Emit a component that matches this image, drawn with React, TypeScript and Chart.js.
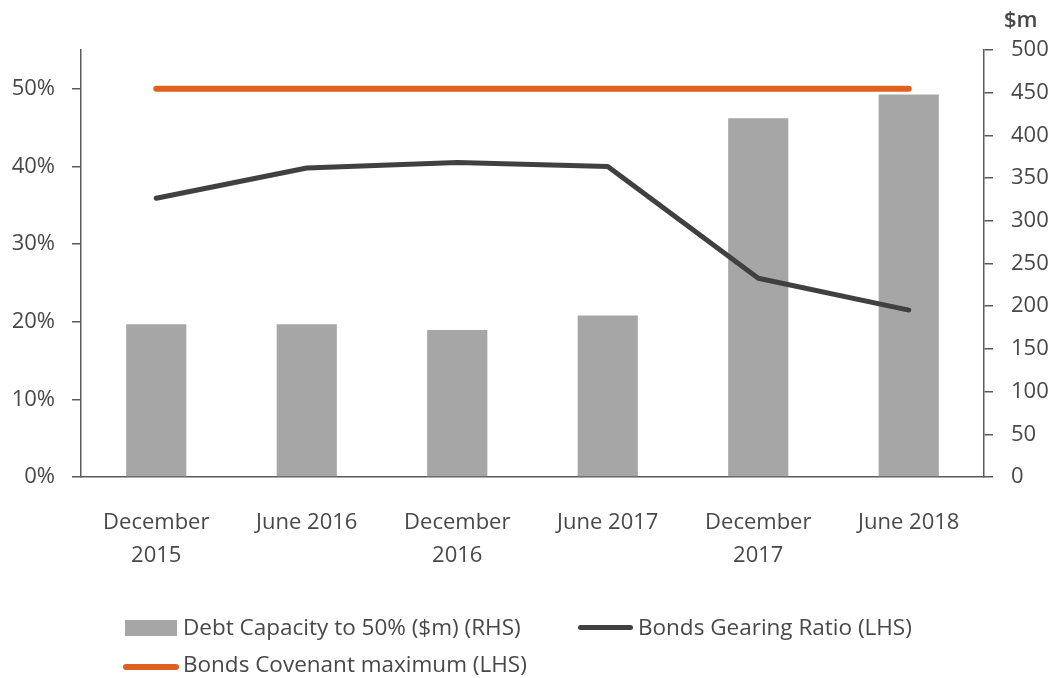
import React, { useEffect, useRef } from "react";
import { Chart, registerables } from "chart.js";

Chart.register(...registerables);

const categories: (string | string[])[] = [
  ["December", "2015"],
  "June 2016",
  ["December", "2016"],
  "June 2017",
  ["December", "2017"],
  "June 2018",
];
const debtCapacity = [179, 179, 172, 189, 420, 448];
const gearingRatio = [0.359, 0.398, 0.405, 0.4, 0.256, 0.215];
const covenantMax = [0.5, 0.5, 0.5, 0.5, 0.5, 0.5];
const leftTicksMax = 0.55;
const rightTicksMax = 500;

const FONT = "'Open Sans', 'DejaVu Sans', sans-serif";
const TEXT = "#484848";
const AXIS = "#5a5a5a";
const GRAY = "#a6a6a6";
const DARK = "#404040";
const ORANGE = "#e0611f";

const unitPlugin = {
  id: "unitLabel",
  afterDraw(chart: any) {
    const ctx = chart.ctx;
    ctx.save();
    ctx.font = `600 22px ${FONT}`;
    ctx.fillStyle = TEXT;
    ctx.textBaseline = "middle";
    ctx.textAlign = "left";
    ctx.fillText("$m", 1004, 21);
    ctx.restore();
  },
};

export default function App() {
  const ref = useRef<HTMLCanvasElement>(null);
  useEffect(() => {
    if (!ref.current) return;
    const chart = new Chart(ref.current, {
      type: "bar",
      data: {
        labels: categories,
        datasets: [
          {
            type: "line",
            label: "Bonds Covenant maximum (LHS)",
            data: covenantMax,
            yAxisID: "y",
            borderColor: ORANGE,
            backgroundColor: ORANGE,
            borderWidth: 6,
            borderCapStyle: "round",
            pointRadius: 0,
            order: 1,
          } as any,
          {
            type: "line",
            label: "Bonds Gearing Ratio (LHS)",
            data: gearingRatio,
            yAxisID: "y",
            borderColor: DARK,
            backgroundColor: DARK,
            borderWidth: 5,
            borderCapStyle: "round",
            borderJoinStyle: "round",
            pointRadius: 0,
            order: 2,
          } as any,
          {
            type: "bar",
            label: "Debt Capacity to 50% ($m) (RHS)",
            data: debtCapacity,
            yAxisID: "y1",
            backgroundColor: GRAY,
            barPercentage: 0.4,
            categoryPercentage: 1,
            order: 3,
          },
        ],
      },
      options: {
        animation: false,
        responsive: false,
        layout: { padding: { top: 50, left: 0, right: 0, bottom: 0 } },
        plugins: {
          legend: { display: false },
          tooltip: { enabled: false },
        },
        scales: {
          x: {
            offset: true,
            grid: { display: false, drawTicks: false },
            border: { display: true, color: AXIS, width: 1.5 },
            ticks: {
              color: TEXT,
              font: { family: FONT, size: 22, lineHeight: 1.5 },
              padding: 29,
              maxRotation: 0,
              autoSkip: false,
            },
            afterFit(scale: any) {
              scale.height = 201;
            },
          },
          y: {
            position: "left",
            min: 0,
            max: leftTicksMax,
            grid: {
              drawOnChartArea: false,
              drawTicks: true,
              tickLength: 9,
              tickColor: AXIS,
              lineWidth: 1.5,
            },
            border: { display: true, color: AXIS, width: 1.5 },
            ticks: {
              stepSize: 0.1,
              includeBounds: false,
              color: TEXT,
              padding: 17,
              font: { family: FONT, size: 22 },
              callback: (v: any) => `${Math.round(Number(v) * 100)}%`,
            },
            afterFit(scale: any) {
              scale.width = 81;
            },
          },
          y1: {
            position: "right",
            min: 0,
            max: rightTicksMax,
            grid: {
              drawOnChartArea: false,
              drawTicks: true,
              tickLength: 9,
              tickColor: AXIS,
              lineWidth: 1.5,
            },
            border: { display: true, color: AXIS, width: 1.5 },
            ticks: {
              stepSize: 50,
              color: TEXT,
              padding: 18,
              font: { family: FONT, size: 22 },
            },
            afterFit(scale: any) {
              scale.width = 76;
            },
          },
        },
      },
      plugins: [unitPlugin],
    });
    return () => chart.destroy();
  }, []);

  const textStyle: React.CSSProperties = {
    position: "absolute",
    height: 30,
    lineHeight: "30px",
    fontFamily: FONT,
    fontSize: 22.5,
    color: TEXT,
    whiteSpace: "nowrap",
  };

  return (
    <div style={{ position: "absolute", left: 0, top: 0, width: 1060, height: 678, background: "#fff" }}>
      <canvas ref={ref} width={1060} height={678} style={{ position: "absolute", left: 0, top: 0 }} />
      <div style={{ position: "absolute", left: 125, top: 620, width: 52, height: 16, background: GRAY }} />
      <div style={{ ...textStyle, left: 183, top: 612 }}>Debt Capacity to 50% ($m) (RHS)</div>
      <div style={{ position: "absolute", left: 578, top: 625, width: 55, height: 5, borderRadius: 3, background: DARK }} />
      <div style={{ ...textStyle, left: 638, top: 612 }}>Bonds Gearing Ratio (LHS)</div>
      <div style={{ position: "absolute", left: 123, top: 664, width: 56, height: 6, borderRadius: 3, background: ORANGE }} />
      <div style={{ ...textStyle, left: 183, top: 649 }}>Bonds Covenant maximum (LHS)</div>
    </div>
  );
}
